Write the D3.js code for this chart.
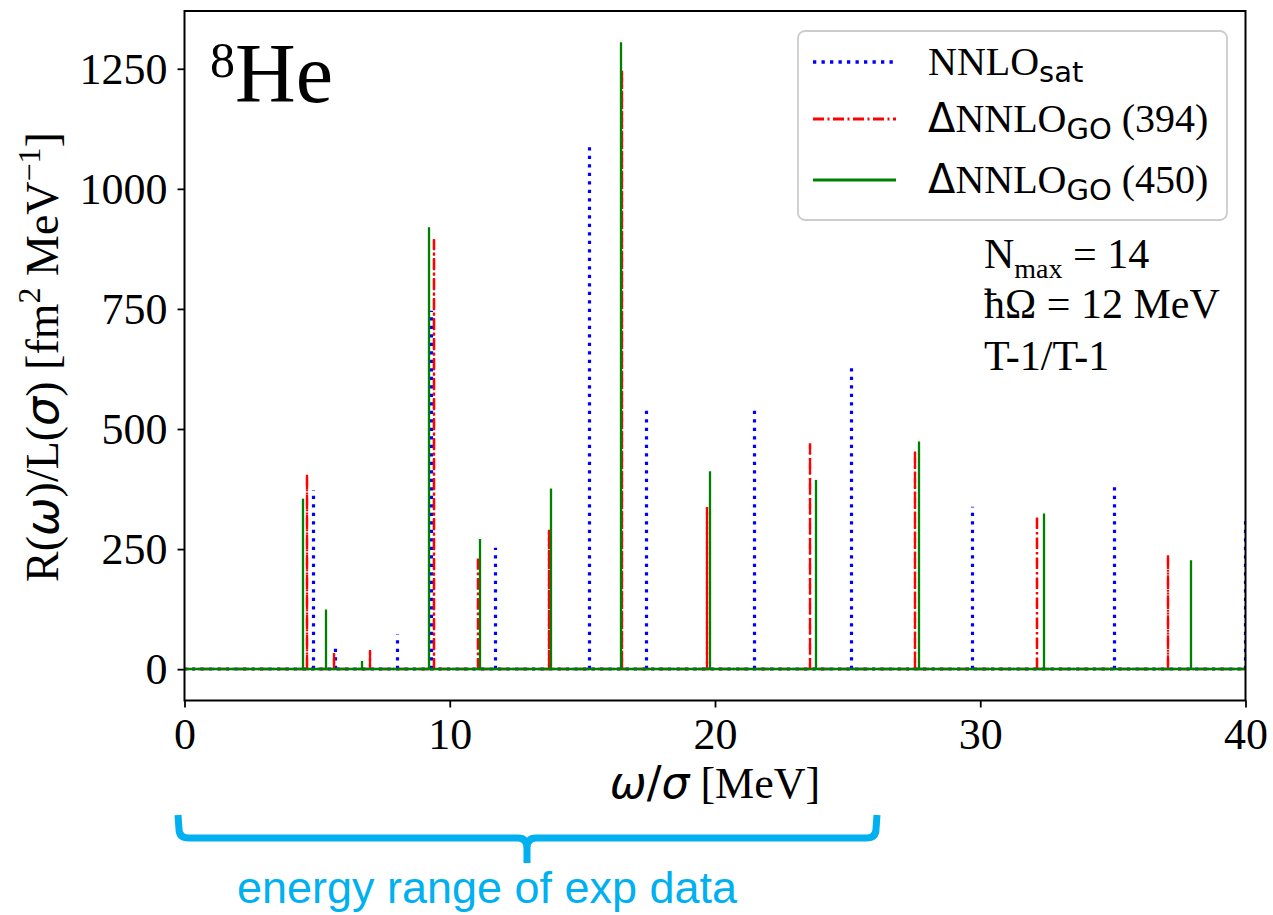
<!DOCTYPE html>
<html>
<head>
<meta charset="utf-8">
<script src="https://cdn.jsdelivr.net/npm/d3@7"></script>
<style>
	body { margin: 0; background: #fff; }
	svg { display: block; }
	.serif { font-family: "Liberation Serif", "Times New Roman", serif; }
	.sans { font-family: "DejaVu Sans", sans-serif; }
</style>
</head>
<body>
<script>
'use strict';

// peak positions (MeV) and heights
const satOmega   = [4.85, 5.68, 8.02, 9.32, 11.73, 15.28, 17.42, 21.49, 25.14, 29.71, 35.07, 40.0];
const satHeight  = [373, 52, 72, 746, 253, 1096, 546, 544, 627, 338, 386, 308];
const go394Omega  = [4.63, 5.62, 7.00, 9.41, 11.05, 13.75, 16.50, 19.71, 23.60, 27.55, 32.14, 37.07];
const go394Height = [405, 33, 40, 895, 230, 290, 1246, 337, 470, 453, 316, 237];
const go450Omega  = [4.45, 5.33, 6.70, 9.22, 11.14, 13.82, 16.44, 19.82, 23.82, 27.70, 32.42, 37.95];
const go450Height = [355, 124, 17, 920, 271, 376, 1305, 412, 394, 474, 324, 227];

const xTicks = [0, 10, 20, 30, 40];
const yTicks = [0, 250, 500, 750, 1000, 1250];

const params = {
	width: 1273,
	height: 915,
	left: 184.5,
	right: 1245.5,
	top: 11,
	bottom: 700.5
};

// twoWay: spike stroked up and back down, so the dash gaps mostly close
const series = [
	{ omega: satOmega, height: satHeight, color: "blue", width: 3.2, dash: "3.3,5.2", snap: 0.5, twoWay: false },
	{ omega: go394Omega, height: go394Height, color: "red", width: 2.3, dash: "11,3.5,2,3.5", snap: 0, twoWay: true },
	{ omega: go450Omega, height: go450Height, color: "green", width: 2.3, dash: null, snap: 0, twoWay: false }
];

const svg = d3.select("body").append("svg")
	.attr("width", params.width)
	.attr("height", params.height);

const xScale = d3.scaleLinear().domain([0, 40]).range([params.left, params.right]);
const yScale = d3.scaleLinear().domain([-65.25, 1370.25]).range([params.bottom, params.top]);

svg.append("clipPath").attr("id", "plotClip")
	.append("rect")
	.attr("x", params.left).attr("y", params.top)
	.attr("width", params.right - params.left)
	.attr("height", params.bottom - params.top);

const plot = svg.append("g").attr("clip-path", "url(#plotClip)");
for (const s of series) {
	const g = plot.append("g")
		.attr("fill", "none")
		.attr("stroke", s.color)
		.attr("stroke-width", s.width)
		.attr("stroke-dasharray", s.dash);
	const px = w => Math.round(xScale(w) - s.snap) + s.snap;
	const y0 = Math.round(yScale(0));
	// zero line between the peaks
	g.append("line")
		.attr("x1", xScale(-1)).attr("x2", xScale(41))
		.attr("y1", y0).attr("y2", y0);
	const peaks = s.omega.map((w, i) => ({ w: w, h: s.height[i] }));
	// one thin spike per peak, drawn upwards from zero
	g.selectAll(".up")
		.data(peaks)
		.join("line")
		.attr("class", "up")
		.attr("x1", d => px(d.w)).attr("x2", d => px(d.w))
		.attr("y1", y0).attr("y2", d => yScale(d.h));
	if (s.twoWay) {
		g.selectAll(".down")
			.data(peaks)
			.join("line")
			.attr("class", "down")
			.attr("x1", d => px(d.w)).attr("x2", d => px(d.w))
			.attr("y1", d => yScale(d.h)).attr("y2", y0);
	}
}

// axes
const xAxis = svg.append("g")
	.attr("transform", `translate(0,${params.bottom})`)
	.call(d3.axisBottom(xScale).tickValues(xTicks).tickFormat(d3.format("d")).tickSize(7).tickSizeOuter(0));
xAxis.selectAll("text").attr("dy", null).attr("y", 48);

const yAxis = svg.append("g")
	.attr("transform", `translate(${params.left},0)`)
	.call(d3.axisLeft(yScale).tickValues(yTicks).tickFormat(d3.format("d")).tickSize(7).tickSizeOuter(0));
yAxis.selectAll("text").attr("x", -17).attr("dy", "0.33em");

for (const ax of [xAxis, yAxis]) {
	ax.select(".domain").remove();
	ax.selectAll("line").attr("stroke", "#000").attr("stroke-width", 1.8);
	ax.selectAll("text")
		.attr("class", "serif")
		.attr("font-size", 44)
		.attr("fill", "#000");
}

svg.append("rect")
	.attr("x", params.left).attr("y", params.top)
	.attr("width", params.right - params.left)
	.attr("height", params.bottom - params.top)
	.attr("fill", "none")
	.attr("stroke", "#000")
	.attr("stroke-width", 2);

// axis labels
const xLabel = svg.append("text")
	.attr("x", (params.left + params.right) / 2)
	.attr("y", 798)
	.attr("text-anchor", "middle")
	.attr("font-size", 44)
	.attr("class", "serif");
xLabel.append("tspan").attr("class", "sans").attr("font-style", "italic").text("ω");
xLabel.append("tspan").attr("class", "sans").text("/");
xLabel.append("tspan").attr("class", "sans").attr("font-style", "italic").text("σ");
xLabel.append("tspan").text(" [MeV]");

const yLabel = svg.append("text")
	.attr("transform", `translate(58,357) rotate(-90)`)
	.attr("text-anchor", "middle")
	.attr("font-size", 46)
	.attr("class", "serif");
yLabel.append("tspan").text("R(");
yLabel.append("tspan").attr("class", "sans").attr("font-style", "italic").text("ω");
yLabel.append("tspan").text(")/L(");
yLabel.append("tspan").attr("class", "sans").attr("font-style", "italic").text("σ");
yLabel.append("tspan").text(") [fm");
yLabel.append("tspan").attr("font-size", 32).attr("dy", -18).text("2");
yLabel.append("tspan").attr("dy", 18).text(" MeV");
yLabel.append("tspan").attr("font-size", 32).attr("dy", -18).text("−1");
yLabel.append("tspan").attr("dy", 18).text("]");

// nucleus tag
const tag = svg.append("text").attr("class", "serif").attr("x", 210).attr("y", 102);
tag.append("tspan").attr("font-size", 50).attr("dy", -25).text("8");
tag.append("tspan").attr("font-size", 84).attr("dy", 25).text("He");

// legend
const legend = svg.append("g");
legend.append("rect")
	.attr("x", 798).attr("y", 31)
	.attr("width", 429).attr("height", 189)
	.attr("rx", 7)
	.attr("fill", "#fff").attr("fill-opacity", 0.8)
	.attr("stroke", "#cccccc").attr("stroke-width", 1.8);

const legendRows = [
	{ y: 62, main: "NNLO", sub: "sat", tail: "", delta: false },
	{ y: 119, main: "NNLO", sub: "GO", tail: " (394)", delta: true },
	{ y: 180, main: "NNLO", sub: "GO", tail: " (450)", delta: true }
];
legendRows.forEach((r, i) => {
	const s = series[i];
	legend.append("line")
		.attr("x1", 813).attr("x2", 896)
		.attr("y1", r.y).attr("y2", r.y)
		.attr("stroke", s.color)
		.attr("stroke-width", s.width + 0.5)
		.attr("stroke-dasharray", s.dash);
	const t = legend.append("text")
		.attr("x", 928).attr("y", r.y + 13)
		.attr("font-size", 40)
		.attr("class", "serif");
	if (r.delta) t.append("tspan").attr("class", "sans").text("Δ");
	t.append("tspan").text(r.main);
	t.append("tspan").attr("class", "sans").attr("font-size", 29).attr("dy", 7).text(r.sub);
	if (r.tail) t.append("tspan").attr("dy", -7).text(r.tail);
});

// model-space notes
const notes = svg.append("g").attr("class", "serif").attr("font-size", 42);
const nmax = notes.append("text").attr("x", 984).attr("y", 268);
nmax.append("tspan").text("N");
nmax.append("tspan").attr("font-size", 28).attr("dy", 10).text("max");
nmax.append("tspan").attr("dy", -10).text(" = 14");
notes.append("text").attr("x", 984).attr("y", 318).text("ħΩ = 12 MeV");
notes.append("text").attr("x", 984).attr("y", 370).text("T-1/T-1");

// brace marking the energy range covered by the experiment
const cyan = "#00b0f0";
svg.append("path")
	.attr("d", "M178,815 L179,829 Q179,838 189,838 L518,838 Q527,838 527,848 L527,863 M527,848 Q527,838 536,838 L866,838 Q876,838 876,829 L877,815")
	.attr("fill", "none")
	.attr("stroke", cyan)
	.attr("stroke-width", 7);

svg.append("text")
	.attr("x", 237).attr("y", 903)
	.attr("font-family", "'Liberation Sans', Arial, sans-serif")
	.attr("font-size", 45)
	.attr("textLength", 500)
	.attr("lengthAdjust", "spacingAndGlyphs")
	.attr("fill", cyan)
	.text("energy range of exp data");
</script>
</body>
</html>
